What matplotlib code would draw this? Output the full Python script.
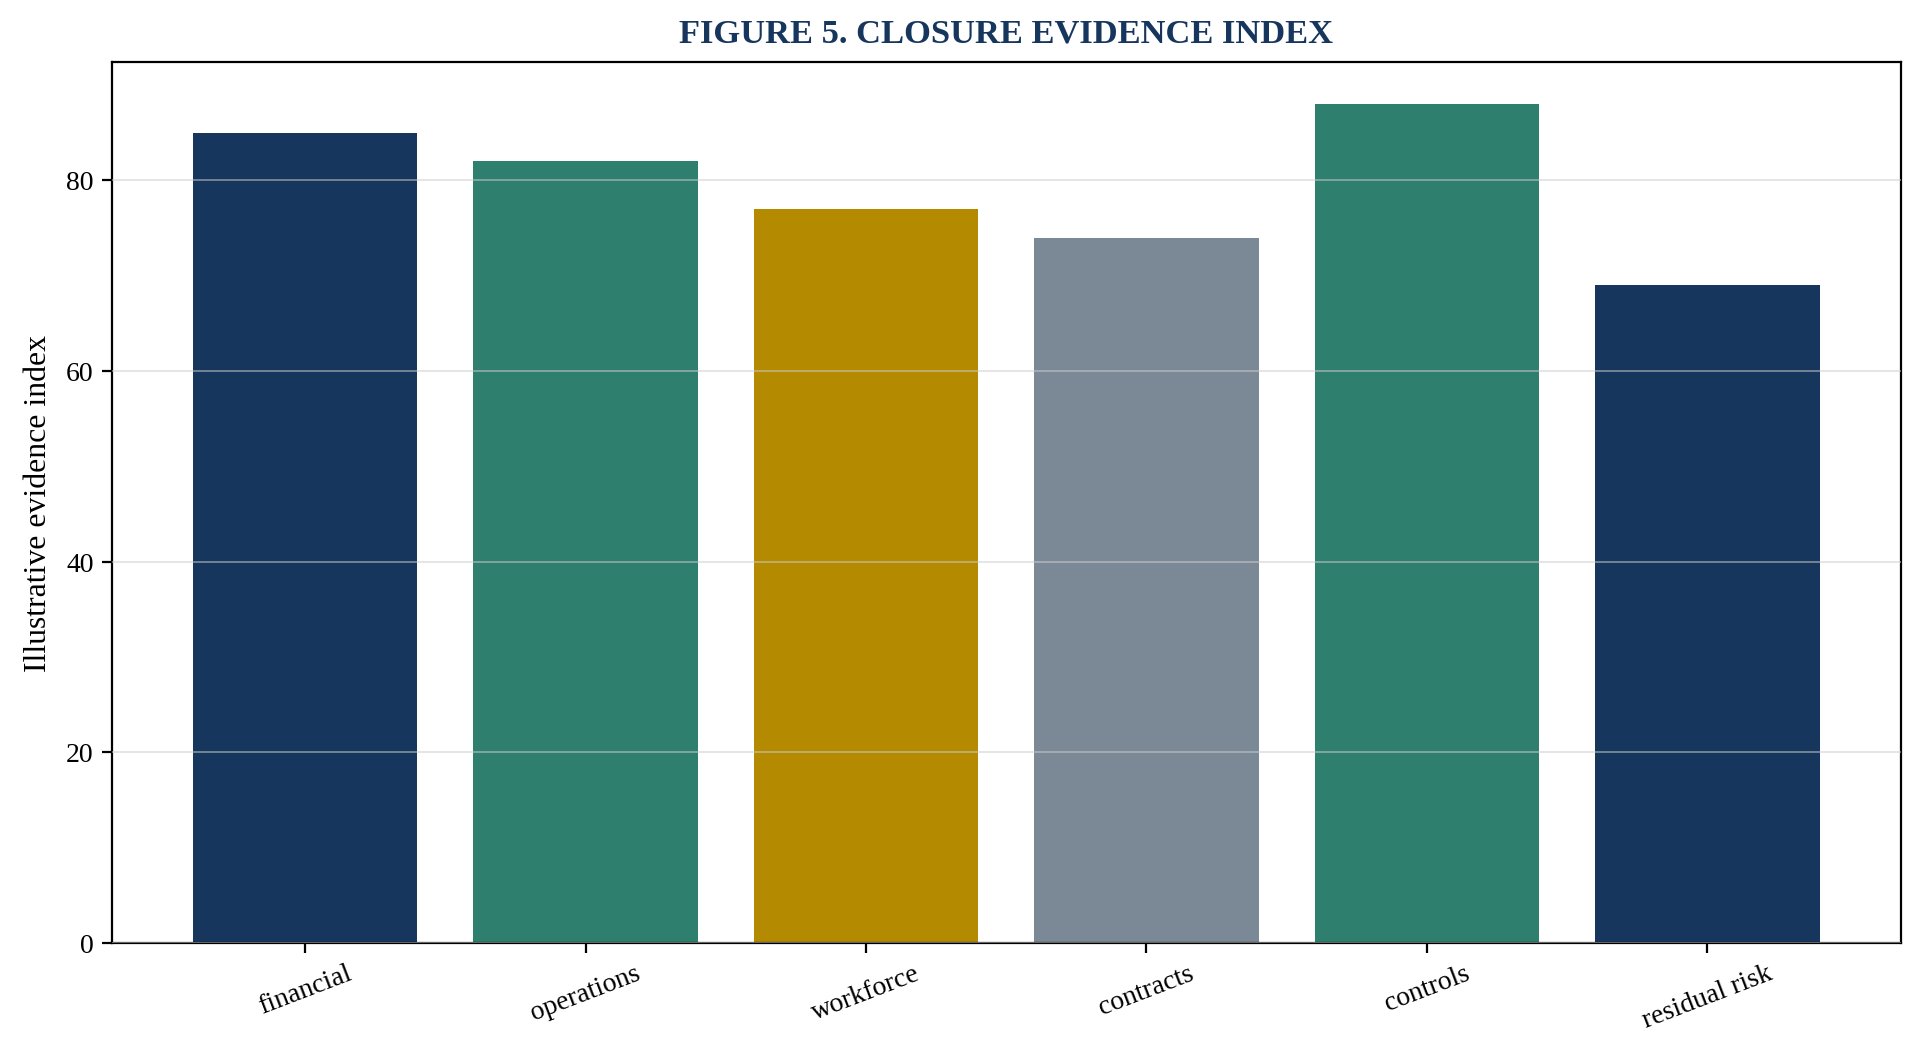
import matplotlib
matplotlib.use("Agg")
from matplotlib import pyplot as plt

categories = ["financial", "operations", "workforce", "contracts", "controls", "residual risk"]
values = [85, 82, 77, 74, 88, 69]
colors = ["#17365d", "#2e7f6e", "#b38a00", "#7b8896", "#2e7f6e", "#17365d"]

plt.rcParams["font.family"] = ["Liberation Serif", "DejaVu Serif"]

fig, ax = plt.subplots(figsize=(12.025, 6.64), dpi=160)
fig.subplots_adjust(left=0.058, right=0.988, top=0.941, bottom=0.112)

ax.bar(range(len(categories)), values, width=0.8, color=colors, zorder=1)
ax.set_ylim(0, max(values) * 1.05)

# grid sits on top of the bars, faint
ax.yaxis.grid(True, color="#cccccc", alpha=0.5, linewidth=0.9, zorder=2)
ax.set_axisbelow(False)

ax.set_xticks(range(len(categories)))
ax.set_xticklabels(categories, rotation=21)
ax.tick_params(axis="both", labelsize=12.5, length=4.5, width=1.0, color="black")
for s in ax.spines.values():
    s.set_linewidth(1.0)
    s.set_color("black")

ax.set_ylabel("Illustrative evidence index", fontsize=14.3, labelpad=6)
ax.set_title("FIGURE 5. CLOSURE EVIDENCE INDEX", fontsize=15.5, fontweight="bold", color="#17365d", pad=9)

fig.savefig("out.png", dpi=160)
